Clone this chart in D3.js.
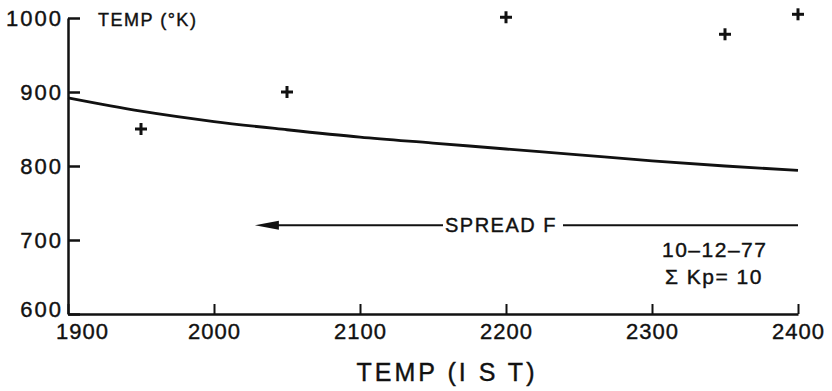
<!DOCTYPE html>
<html>
<head>
<meta charset="utf-8">
<script src="https://cdn.jsdelivr.net/npm/d3@7"></script>
<style>
  body { margin: 0; background: #fff; }
  svg text { font-family: "Liberation Sans", Arial, sans-serif; fill: #111; stroke: #111; stroke-width: 0.4px; }
</style>
</head>
<body>
<svg id="chart" width="832" height="391"></svg>
<script>
// data
const xTicks = [1900, 2000, 2100, 2200, 2300, 2400];
const yTicks = [600, 700, 800, 900, 1000];
const modelTime = [1900, 1950, 2000, 2050, 2100, 2150, 2200, 2250, 2300, 2350, 2400];
const modelTemp = [892, 874, 860, 849, 839, 831, 823, 815, 807, 800, 794];
const obsTime = [1950, 2050, 2200, 2350, 2400];
const obsTemp = [850, 900, 1001, 978, 1005];
const spreadF = {from: 2400, to: 2028, level: 720, label: 'SPREAD F'};
const notes = ['10\u201312\u201377', '\u03A3 Kp= 10'];

const svg = d3.select('#chart');
const mLeft = 68, mRight = 798, mTop = 18, mBottom = 314;

const x = d3.scaleLinear().domain([1900, 2400]).range([mLeft, mRight]);
const y = d3.scaleLinear().domain([600, 1000]).range([mBottom, mTop]);

// y axis, ticks pointing inward
const yAxis = svg.append('g')
    .attr('transform', `translate(${mLeft},0)`)
    .call(d3.axisLeft(y).tickValues(yTicks).tickSizeInner(-12).tickSizeOuter(0).tickPadding(5).tickFormat(d3.format('d')));
yAxis.select('.domain').attr('stroke', '#111').attr('stroke-width', 2.5);
yAxis.selectAll('.tick line').attr('stroke', '#111').attr('stroke-width', 2.5);
yAxis.selectAll('.tick text')
    .style('font-size', '22px')
    .style('letter-spacing', '2px')
    .attr('dy', d => d === 600 ? '0.1em' : '0.36em');

// x axis, ticks pointing up
const xAxis = svg.append('g')
    .attr('transform', `translate(0,${mBottom})`)
    .call(d3.axisBottom(x).tickValues(xTicks).tickSizeInner(-10).tickSizeOuter(0).tickPadding(9).tickFormat(d3.format('d')));
xAxis.select('.domain').attr('stroke', '#111').attr('stroke-width', 2.5);
xAxis.selectAll('.tick line').attr('stroke', '#111').attr('stroke-width', 2);
xAxis.selectAll('.tick text')
    .style('font-size', '22px')
    .style('letter-spacing', '1px')
    .attr('x', d => d === 1900 ? 14 : 0);

svg.append('text')
    .attr('x', 98).attr('y', y(1000) + 8)
    .style('font-size', '18px')
    .style('letter-spacing', '1.5px')
    .text('TEMP (\u00B0K)');

svg.append('text')
    .attr('x', 447).attr('y', 381)
    .attr('text-anchor', 'middle')
    .style('font-size', '25px')
    .style('letter-spacing', '3px')
    .text('TEMP (I S T)');

// model curve
const line = d3.line()
    .x((d, i) => x(modelTime[i]))
    .y(d => y(d))
    .curve(d3.curveMonotoneX);

svg.append('path')
    .datum(modelTemp)
    .attr('d', line)
    .attr('fill', 'none')
    .attr('stroke', '#111')
    .attr('stroke-width', 2.8);

// observed points as plus signs
const plus = svg.append('g')
    .selectAll('g')
    .data(obsTime.map((t, i) => ({t, v: obsTemp[i]})))
    .join('g')
    .attr('transform', d => `translate(${x(d.t)},${y(d.v)})`);
plus.append('line').attr('x1', -6).attr('x2', 6).attr('y1', 0).attr('y2', 0);
plus.append('line').attr('x1', 0).attr('x2', 0).attr('y1', -6).attr('y2', 6);
plus.selectAll('line').attr('stroke', '#111').attr('stroke-width', 3);

// spread F arrow
const ay = y(spreadF.level);
const labelX = 445, labelW = 112;
svg.append('line')
    .attr('x1', x(spreadF.from)).attr('x2', labelX + labelW + 6)
    .attr('y1', ay).attr('y2', ay)
    .attr('stroke', '#111').attr('stroke-width', 2);
svg.append('line')
    .attr('x1', labelX - 2).attr('x2', x(spreadF.to) + 16)
    .attr('y1', ay).attr('y2', ay)
    .attr('stroke', '#111').attr('stroke-width', 2);
const ax = x(spreadF.to);
svg.append('path')
    .attr('d', `M${ax},${ay} L${ax + 24},${ay - 4.5} L${ax + 24},${ay + 4.5} Z`)
    .attr('fill', '#111');
svg.append('text')
    .attr('x', labelX).attr('y', ay + 7)
    .style('font-size', '20px')
    .style('letter-spacing', '1.5px')
    .text(spreadF.label);

// annotation
svg.append('g')
    .selectAll('text')
    .data(notes)
    .join('text')
    .attr('x', (d, i) => 662 + i * 3)
    .attr('y', (d, i) => 257 + i * 27)
    .style('font-size', '21px')
    .style('letter-spacing', '1.5px')
    .text(d => d);
</script>
</body>
</html>
